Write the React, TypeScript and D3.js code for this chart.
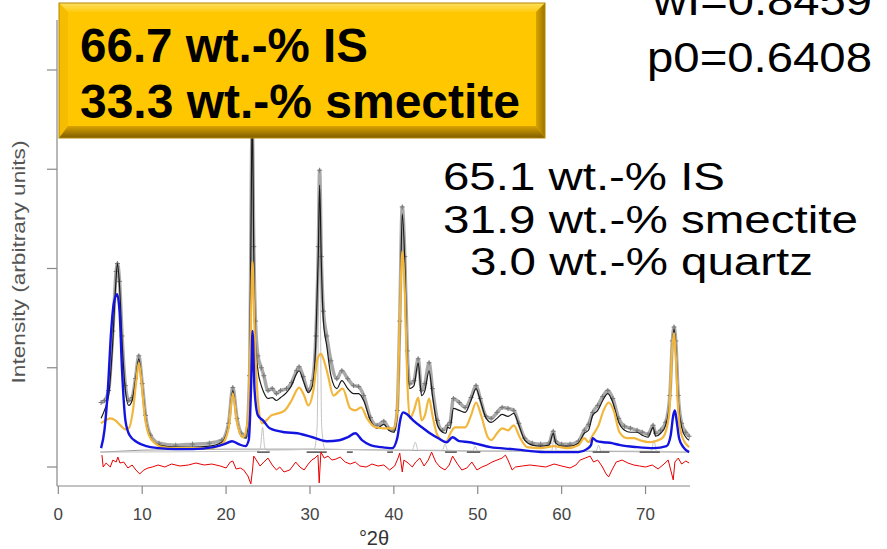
import React from "react";
import * as d3 from "d3";

// ---------- data (2θ in degrees, intensity in arbitrary units) ----------
const xTicks = [0, 10, 20, 30, 40, 50, 60, 70];
const yTicks = [0, 100, 200, 300, 400];

const observed: [number, number][] = [
  [5.1, 65], [5.5, 67], [6.0, 77], [6.5, 137], [6.9, 197], [7.05, 205], [7.3, 187], [7.6, 132],
  [8.0, 82], [8.4, 67], [8.8, 70], [9.2, 89], [9.6, 112], [10.0, 84], [10.4, 52], [11.0, 32],
  [12, 24], [14, 22], [16, 23], [18, 24], [19.5, 27], [20.3, 44], [20.8, 80], [21.3, 49],
  [21.8, 34], [22.4, 31], [22.8, 92], [23.12, 347], [23.3, 222], [23.5, 147], [23.8, 112],
  [24.2, 100], [24.5, 92], [25.0, 77], [25.5, 79], [26.0, 74], [26.5, 77], [27.2, 79],
  [27.8, 85], [28.4, 97], [28.7, 101], [29.2, 91], [29.8, 77], [30.3, 87], [30.7, 132],
  [31.0, 222], [31.15, 299], [31.35, 212], [31.6, 157], [32.0, 132], [32.5, 107], [33.2, 89],
  [33.8, 97], [34.5, 89], [35.2, 82], [35.8, 81], [36.4, 72], [37.2, 50], [38.0, 42],
  [38.8, 46], [39.4, 39], [40.0, 37], [40.4, 57], [40.7, 147], [41.0, 262], [41.3, 212],
  [41.6, 117], [41.9, 84], [42.4, 87], [42.9, 109], [43.3, 77], [43.7, 84], [44.2, 105],
  [44.6, 79], [45.2, 47], [45.8, 37], [46.4, 42], [46.7, 45], [47.1, 69], [47.8, 65],
  [48.5, 60], [49.2, 70], [49.8, 82], [50.3, 69], [51.0, 51], [51.6, 49], [52.3, 55],
  [52.9, 60], [53.6, 59], [54.3, 57], [54.9, 44], [55.6, 29], [56.5, 24], [57.5, 23],
  [58.5, 24], [59.0, 36], [59.3, 26], [60.0, 23], [61.0, 23], [62.0, 26], [62.7, 37],
  [63.2, 43], [63.7, 55], [64.3, 62], [64.9, 71], [65.5, 77], [66.1, 69], [66.8, 49],
  [67.5, 41], [68.2, 39], [69.0, 37], [69.6, 35], [70.3, 33], [70.9, 42], [71.2, 34],
  [71.8, 37], [72.4, 45], [72.9, 72], [73.2, 127], [73.4, 141], [73.6, 127], [73.9, 72],
  [74.3, 44], [74.8, 35], [75.2, 31],
];

const calculated: [number, number][] = [
  [5.1, 49], [5.5, 57], [6.0, 72], [6.5, 127], [6.8, 177], [7.05, 205], [7.3, 182], [7.6, 127],
  [8.0, 77], [8.4, 62], [8.8, 67], [9.2, 87], [9.6, 109], [10.0, 82], [10.4, 49], [11.0, 30],
  [12, 22], [14, 20], [16, 20], [18, 21], [19.5, 25], [20.3, 42], [20.8, 77], [21.3, 47],
  [21.8, 31], [22.4, 29], [22.8, 87], [23.0, 267], [23.12, 360], [23.3, 217], [23.5, 127],
  [23.8, 97], [24.2, 82], [24.5, 75], [25.0, 69], [25.5, 70], [26.0, 67], [26.5, 70],
  [27.2, 75], [27.8, 82], [28.4, 94], [28.7, 97], [29.2, 87], [29.8, 75], [30.3, 82],
  [30.7, 127], [31.0, 217], [31.15, 284], [31.35, 207], [31.6, 147], [32.0, 122], [32.5, 92],
  [33.2, 79], [33.8, 87], [34.5, 79], [35.2, 74], [35.8, 74], [36.4, 67], [37.2, 47],
  [38.0, 39], [38.8, 43], [39.4, 37], [40.0, 35], [40.4, 52], [40.7, 137], [41.0, 255],
  [41.3, 207], [41.6, 107], [41.9, 79], [42.4, 82], [42.9, 105], [43.3, 72], [43.7, 77],
  [44.2, 97], [44.6, 72], [45.2, 42], [45.8, 35], [46.2, 34], [46.4, 40], [46.7, 39],
  [47.1, 59], [47.8, 57], [48.5, 55], [49.2, 67], [49.8, 79], [50.3, 67], [51.0, 49],
  [51.6, 45], [52.3, 49], [52.9, 53], [53.6, 51], [54.3, 54], [54.9, 42], [55.6, 27],
  [56.5, 22], [57.5, 21], [58.5, 22], [59.0, 34], [59.3, 24], [60.0, 21], [61.0, 21],
  [62.0, 24], [62.7, 34], [63.2, 37], [63.7, 52], [64.3, 57], [64.9, 67], [65.5, 74],
  [66.1, 65], [66.8, 45], [67.5, 37], [68.2, 35], [69.0, 35], [69.6, 32], [70.3, 30],
  [70.9, 40], [71.2, 31], [71.8, 34], [72.4, 42], [72.9, 67], [73.2, 122], [73.4, 139],
  [73.6, 122], [73.9, 67], [74.3, 40], [74.8, 30], [75.2, 27],
];

const illiteSmectite: [number, number][] = [
  [5.1, 44], [5.6, 47], [6.2, 49], [6.8, 47], [7.4, 42], [8.0, 38], [8.4, 39], [8.9, 57],
  [9.3, 87], [9.6, 105], [9.9, 87], [10.3, 52], [10.8, 32], [11.5, 24], [12.5, 20], [14, 19],
  [16, 19], [18, 19], [19.5, 23], [20.3, 39], [20.8, 74], [21.3, 45], [22.0, 30], [22.6, 47],
  [22.9, 127], [23.15, 207], [23.4, 137], [23.8, 67], [24.3, 44], [24.8, 47], [25.4, 52],
  [26.2, 54], [27.0, 57], [27.8, 67], [28.7, 80], [29.3, 72], [29.8, 62], [30.4, 77],
  [30.9, 109], [31.3, 114], [31.6, 109], [32.1, 94], [32.8, 72], [33.9, 79], [34.8, 59],
  [35.4, 57], [36.1, 60], [36.8, 49], [37.8, 40], [38.8, 39], [40.0, 39], [40.4, 57],
  [40.7, 147], [41.0, 217], [41.3, 177], [41.6, 87], [41.9, 49], [42.4, 57], [42.9, 70],
  [43.3, 47], [43.7, 52], [44.2, 69], [44.6, 52], [45.2, 32], [46.2, 25], [46.8, 35],
  [47.3, 40], [48.5, 40], [49.2, 52], [49.8, 65], [50.4, 52], [51.2, 30], [51.6, 27],
  [52.3, 34], [52.9, 39], [53.6, 37], [54.3, 42], [55.0, 30], [55.9, 20], [57.5, 19],
  [59.1, 21], [60.6, 19], [62.0, 22], [62.7, 29], [63.2, 25], [63.7, 32], [64.4, 42],
  [65.0, 57], [65.6, 65], [66.2, 57], [66.9, 35], [67.8, 29], [68.6, 29], [69.3, 27],
  [70.5, 25], [71.5, 27], [72.1, 30], [72.8, 52], [73.2, 122], [73.4, 135], [73.6, 112],
  [73.9, 57], [74.3, 32], [75.2, 20],
];

const smectite: [number, number][] = [
  [5.1, 19], [5.5, 37], [5.9, 77], [6.3, 137], [6.6, 164], [7.0, 174], [7.3, 157], [7.6, 97],
  [8.0, 47], [8.5, 32], [9.4, 25], [10.5, 21], [12, 19], [14, 18], [16, 18], [18.5, 20],
  [19.8, 23], [20.7, 26], [21.5, 23], [22.3, 21], [22.7, 27], [23.0, 87], [23.15, 137],
  [23.4, 77], [23.8, 52], [24.4, 47], [25.2, 39], [27.0, 35], [28.5, 34], [30.3, 30],
  [32.0, 26], [33.5, 27], [34.5, 30], [35.4, 34], [36.2, 27], [37.2, 22], [38.5, 20],
  [39.8, 19], [40.4, 29], [40.8, 49], [41.1, 55], [41.6, 53], [42.3, 47], [43.5, 39],
  [44.3, 34], [45.3, 29], [46.3, 25], [47.0, 30], [47.8, 26], [49.0, 25], [51.5, 20],
  [54.2, 18], [58, 15], [62, 15], [63.0, 18], [63.5, 22], [63.7, 29], [64.2, 26], [65.0, 25],
  [66.0, 24], [67.0, 22], [69.0, 20], [71.0, 19], [72.5, 21], [73.0, 32], [73.3, 52],
  [73.5, 57], [73.7, 47], [74.0, 29], [74.5, 20], [75.2, 15],
];

const quartz: [number, number][] = [
  [5.0, 15], [23.8, 16], [24.1, 20], [24.35, 40], [24.6, 20], [24.9, 17], [30.5, 18],
  [30.85, 40], [31.0, 150], [31.12, 262], [31.25, 150], [31.4, 40], [31.8, 18], [42.2, 17],
  [42.55, 25], [42.9, 17], [45.8, 17], [46.1, 23], [46.4, 17], [49.4, 16], [49.7, 21],
  [50.0, 16], [58.8, 16], [59.1, 30], [59.4, 16], [64.1, 16], [64.4, 22], [64.7, 16],
  [70.7, 16], [71.0, 27], [71.3, 16], [75.2, 15],
];

const background: [number, number][] = [
  [5.0, 15], [10, 17], [20, 18], [30, 18], [40, 17], [50, 16], [60, 16], [75.2, 15],
];

const baselineMarks: [number, number][] = [
  [23.7, 25.2], [29.6, 32.0], [34.4, 35.1], [39.2, 39.9], [46.1, 47.5], [48.7, 50.3],
  [58.4, 60.0], [63.7, 65.7], [69.3, 71.7],
];

const difference: [number, number][] = [
  [5.2, 12], [5.35, 0], [5.7, 4], [6.2, 0], [6.5, 7], [6.9, 5], [7.1, 10], [7.35, 4],
  [7.8, 5], [8.3, -1], [8.8, 2], [9.25, -3], [9.7, -7], [10.2, -3], [10.7, -1], [11.2, 0],
  [11.9, 2], [12.7, 0], [13.5, 3], [14.5, 1], [15.5, 2], [16.4, 4], [17.4, 2], [18.3, 3],
  [19.3, 1], [20.0, -1], [20.5, 5], [20.8, 6], [21.2, -2], [21.7, -1], [22.1, -3],
  [22.6, -9], [22.95, -17], [23.15, -3], [23.3, 11], [23.6, 7], [24.05, 1], [24.5, 5],
  [25.0, 9], [25.5, 2], [26.0, -3], [26.4, 0], [26.9, -5], [27.6, -3], [28.3, 5], [28.8, 0],
  [29.3, -3], [29.8, 3], [30.2, 7], [30.6, 9], [30.95, 12], [31.1, -16], [31.3, 15],
  [31.7, 9], [32.15, 11], [32.6, 7], [33.1, 8], [33.6, 10], [34.2, 5], [34.8, 3], [35.4, 5],
  [35.95, 1], [36.7, 0], [37.4, 3], [38.1, 1], [38.8, 2], [39.5, -3], [40.1, 1], [40.5, 9],
  [40.7, 14], [41.0, -5], [41.2, 7], [41.7, 4], [42.2, 0], [42.6, 5], [43.1, 9], [43.6, 1],
  [44.1, 7], [44.5, 15], [45.0, 5], [45.5, 0], [46.1, -3], [46.6, 2], [47.0, 11], [47.5, 4],
  [48.1, -3], [48.7, -1], [49.3, 5], [49.9, -3], [50.5, 0], [51.1, 2], [51.7, 5], [52.3, 7],
  [52.9, 9], [53.3, 12], [53.6, 7], [54.1, -3], [54.5, 0], [55.3, 1], [56.2, 2], [57.2, 1],
  [58.1, 0], [59.1, 3], [60.0, 1], [61.0, -1], [61.7, 2], [62.2, 7], [62.8, 9], [63.4, 11],
  [63.8, 5], [64.3, 7], [64.8, 1], [65.3, -7], [65.6, -10], [66.0, -3], [66.5, 5], [67.2, 7],
  [67.9, 4], [68.6, 2], [69.3, 1], [70.0, 0], [70.8, 2], [71.5, -2], [72.2, 3], [72.7, 7],
  [73.0, -3], [73.3, -13], [73.5, 5], [73.9, 9], [74.3, 3], [74.8, 6], [75.2, 4],
];

const boxLines = ["66.7 wt.-% IS", "33.3 wt.-% smectite"];
const fitLines = ["65.1 wt.-% IS", "31.9 wt.-% smectite", "3.0 wt.-% quartz"];
const paramLines = ["wI=0.8459", "p0=0.6408"];

// ---------- layout ----------
const W = 887;
const H = 549;
const FONT = "'Liberation Sans', Arial, Helvetica, sans-serif";

const x = d3.scaleLinear().domain([0, 75.3]).range([58.3, 690]);
const y = d3.scaleLinear().domain([0, 400]).range([467, 70]);

const smooth = d3
  .line<[number, number]>()
  .x((d) => x(d[0]))
  .y((d) => y(d[1]))
  .curve(d3.curveMonotoneX);
const straight = d3
  .line<[number, number]>()
  .x((d) => x(d[0]))
  .y((d) => y(d[1]));

export default function App() {
  const axisY = 486;
  const axisX = 57;
  const bx0 = 59, bx1 = 545, by0 = 3, by1 = 138, bev = 9, bevB = 12;
  return (
    <svg
      width={W}
      height={H}
      viewBox={`0 0 ${W} ${H}`}
      style={{ position: "absolute", left: 0, top: 0, background: "#fff" }}
      fontFamily={FONT}
    >
      <defs>
        <linearGradient id="bevB" x1="0" y1="0" x2="0" y2="1">
          <stop offset="0" stopColor="#D9A300" />
          <stop offset="1" stopColor="#7E5C00" />
        </linearGradient>
        <linearGradient id="bevR" x1="0" y1="0" x2="1" y2="0">
          <stop offset="0" stopColor="#D8A400" />
          <stop offset="1" stopColor="#9C7400" />
        </linearGradient>
        <linearGradient id="bevT" x1="0" y1="0" x2="0" y2="1">
          <stop offset="0" stopColor="#FFE060" />
          <stop offset="1" stopColor="#FFCB10" />
        </linearGradient>
      </defs>

      {/* axes */}
      <g stroke="#888" strokeWidth={1.2} fill="none">
        <line x1={axisX} y1={20} x2={axisX} y2={axisY} />
        <line x1={axisX} y1={axisY} x2={x(75.3)} y2={axisY} />
        {yTicks.map((t) => (
          <line key={t} x1={axisX - 10} x2={axisX} y1={y(t)} y2={y(t)} />
        ))}
        {xTicks.map((t) => (
          <line key={t} x1={x(t)} x2={x(t)} y1={axisY} y2={axisY + 8} />
        ))}
      </g>
      <g fill="#444" fontSize={17} textAnchor="middle">
        {xTicks.map((t) => (
          <text key={t} x={x(t)} y={520}>
            {t}
          </text>
        ))}
      </g>
      <text x={374} y={545} fontSize={20} fill="#333" textAnchor="middle">
        °2θ
      </text>
      <text
        transform="translate(25,262) rotate(-90)"
        fontSize={19}
        fill="#555"
        textAnchor="middle"
        textLength={243}
        lengthAdjust="spacingAndGlyphs"
      >
        Intensity (arbitrary units)
      </text>

      {/* data */}
      <path d={straight(background) || ""} fill="none" stroke="#9a9a9a" strokeWidth={1} />
      <path d={smooth(quartz) || ""} fill="none" stroke="#c4c4c4" strokeWidth={1} />
      {baselineMarks.map((m, i) => (
        <line
          key={i}
          x1={x(m[0])}
          x2={x(m[1])}
          y1={y(15)}
          y2={y(15)}
          stroke="#444"
          strokeWidth={1.4}
        />
      ))}
      <path
        d={smooth(observed) || ""}
        fill="none"
        stroke="#9a9a9a"
        strokeWidth={3.5}
        strokeOpacity={0.85}
      />
      <g stroke="#7a7a7a" strokeWidth={1}>
        {observed.map((d, i) => (
          <path
            key={i}
            d={`M${x(d[0]) - 2.5},${y(d[1])}h5M${x(d[0])},${y(d[1]) - 2.5}v5`}
          />
        ))}
      </g>
      <path d={smooth(calculated) || ""} fill="none" stroke="#1a1a1a" strokeWidth={1.2} />
      <path d={smooth(illiteSmectite) || ""} fill="none" stroke="#F2B63C" strokeWidth={2.2} />
      <path d={smooth(smectite) || ""} fill="none" stroke="#1414E0" strokeWidth={2.4} />
      <path d={straight(difference) || ""} fill="none" stroke="#E80000" strokeWidth={1} />

      {/* fit results */}
      <g fontSize={38} fill="#000">
        <text x={443} y={190} textLength={282} lengthAdjust="spacingAndGlyphs">
          {fitLines[0]}
        </text>
        <text x={443} y={233} textLength={415} lengthAdjust="spacingAndGlyphs">
          {fitLines[1]}
        </text>
        <text x={470} y={275} textLength={343} lengthAdjust="spacingAndGlyphs">
          {fitLines[2]}
        </text>
      </g>
      <g fontSize={42} fill="#000">
        <text x={653} y={15} textLength={219} lengthAdjust="spacingAndGlyphs">
          {paramLines[0]}
        </text>
        <text x={647} y={72} textLength={225} lengthAdjust="spacingAndGlyphs">
          {paramLines[1]}
        </text>
      </g>

      {/* bevelled box */}
      <g>
        <rect x={bx0} y={by0} width={bx1 - bx0} height={by1 - by0} fill="#FFC700" />
        <polygon
          points={`${bx0},${by0} ${bx1},${by0} ${bx1 - bev},${by0 + bev} ${bx0 + bev},${by0 + bev}`}
          fill="url(#bevT)"
        />
        <polygon
          points={`${bx0},${by0} ${bx0 + bev},${by0 + bev} ${bx0 + bev},${by1 - bevB} ${bx0},${by1}`}
          fill="#F5BC00"
        />
        <polygon
          points={`${bx1},${by0} ${bx1},${by1} ${bx1 - bev},${by1 - bevB} ${bx1 - bev},${by0 + bev}`}
          fill="url(#bevR)"
        />
        <polygon
          points={`${bx0},${by1} ${bx0 + bev},${by1 - bevB} ${bx1 - bev},${by1 - bevB} ${bx1},${by1}`}
          fill="url(#bevB)"
        />
        <rect
          x={bx0}
          y={by0}
          width={bx1 - bx0}
          height={by1 - by0}
          fill="none"
          stroke="#B38700"
          strokeWidth={1}
        />
        <g fontSize={48} fontWeight="bold" fill="#000">
          <text x={80} y={62} textLength={288} lengthAdjust="spacingAndGlyphs">
            {boxLines[0]}
          </text>
          <text x={80} y={118} textLength={440} lengthAdjust="spacingAndGlyphs">
            {boxLines[1]}
          </text>
        </g>
      </g>
    </svg>
  );
}
